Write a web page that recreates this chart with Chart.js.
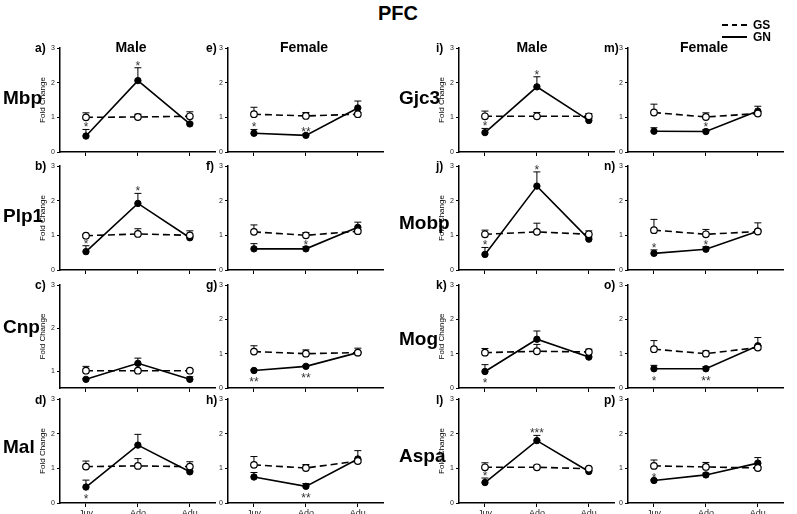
<!DOCTYPE html>
<html><head><meta charset="utf-8">
<script src="https://cdn.jsdelivr.net/npm/chart.js@4.4.0/dist/chart.umd.min.js"></script>
<style>
html,body{margin:0;padding:0;background:#fff;}
#wrap{position:relative;width:797px;height:514px;overflow:hidden;background:#fff;font-family:"Liberation Sans",Arial,sans-serif;}
canvas{position:absolute;}
.t{position:absolute;white-space:nowrap;font-weight:bold;color:#000;line-height:1;}
.ln{position:absolute;height:2px;}
</style></head><body><div id="wrap"></div>
<script>
// ---------- DATA ----------
const categories = ["Juv", "Ado", "Adu"];
const yTickValues = [0, 1, 2, 3];
const seriesNames = ["GS", "GN"];

// a) Mbp – Male
const gsA = [1.00, 1.01, 1.03], gsErrA = [0.13, 0.08, 0.13];
const gnA = [0.46, 2.06, 0.81], gnErrA = [0.19, 0.37, 0.03];
const sigA = ["*", "*", ""];
// b) Plp1 – Male
const gsB = [0.99, 1.04, 1.00], gsErrB = [0.03, 0.15, 0.13];
const gnB = [0.53, 1.92, 0.93], gnErrB = [0.17, 0.29, 0.05];
const sigB = ["*", "*", ""];
// c) Cnp – Male
const gsC = [1.02, 1.02, 1.02], gsErrC = [0.10, 0.02, 0.02];
const gnC = [0.82, 1.19, 0.82], gnErrC = [0.02, 0.12, 0.06];
const sigC = ["", "", ""];
// d) Mal – Male
const gsD = [1.05, 1.07, 1.05], gsErrD = [0.16, 0.21, 0.14];
const gnD = [0.46, 1.67, 0.90], gnErrD = [0.20, 0.31, 0.03];
const sigD = ["*", "", ""];
// e) Mbp – Female
const gsE = [1.09, 1.04, 1.09], gsErrE = [0.20, 0.10, 0.05];
const gnE = [0.54, 0.48, 1.27], gnErrE = [0.11, 0.04, 0.20];
const sigE = ["*", "**", ""];
// f) Plp1 – Female
const gsF = [1.10, 1.00, 1.12], gsErrF = [0.20, 0.08, 0.04];
const gnF = [0.61, 0.61, 1.23], gnErrF = [0.15, 0.06, 0.15];
const sigF = ["", "*", ""];
// g) Cnp – Female
const gsG = [1.06, 1.00, 1.03], gsErrG = [0.17, 0.11, 0.13];
const gnG = [0.51, 0.63, 1.03], gnErrG = [0.02, 0.02, 0.02];
const sigG = ["**", "**", ""];
// h) Mal – Female
const gsH = [1.10, 1.01, 1.21], gsErrH = [0.24, 0.10, 0.05];
const gnH = [0.75, 0.48, 1.27], gnErrH = [0.13, 0.08, 0.24];
const sigH = ["", "**", ""];
// i) Gjc3 – Male
const gsI = [1.03, 1.03, 1.03], gsErrI = [0.15, 0.11, 0.08];
const gnI = [0.56, 1.88, 0.91], gnErrI = [0.12, 0.29, 0.05];
const sigI = ["*", "*", ""];
// j) Mobp – Male
const gsJ = [1.03, 1.10, 1.03], gsErrJ = [0.12, 0.25, 0.10];
const gnJ = [0.45, 2.42, 0.89], gnErrJ = [0.20, 0.41, 0.04];
const sigJ = ["*", "*", ""];
// k) Mog – Male
const gsK = [1.03, 1.07, 1.05], gsErrK = [0.12, 0.20, 0.08];
const gnK = [0.48, 1.42, 0.90], gnErrK = [0.20, 0.24, 0.03];
const sigK = ["*", "", ""];
// l) Aspa – Male
const gsL = [1.03, 1.03, 0.99], gsErrL = [0.13, 0.06, 0.02];
const gnL = [0.59, 1.80, 0.91], gnErrL = [0.13, 0.15, 0.03];
const sigL = ["*", "***", ""];
// m) Gjc3 – Female
const gsM = [1.14, 1.01, 1.11], gsErrM = [0.24, 0.12, 0.05];
const gnM = [0.60, 0.59, 1.18], gnErrM = [0.10, 0.06, 0.14];
const sigM = ["", "*", ""];
// n) Mobp – Female
const gsN = [1.15, 1.03, 1.11], gsErrN = [0.31, 0.14, 0.05];
const gnN = [0.48, 0.60, 1.12], gnErrN = [0.10, 0.07, 0.24];
const sigN = ["*", "*", ""];
// o) Mog – Female
const gsO = [1.13, 1.00, 1.18], gsErrO = [0.25, 0.08, 0.05];
const gnO = [0.56, 0.56, 1.23], gnErrO = [0.10, 0.06, 0.24];
const sigO = ["*", "**", ""];
// p) Aspa – Female
const gsP = [1.07, 1.04, 1.01], gsErrP = [0.17, 0.13, 0.03];
const gnP = [0.65, 0.81, 1.15], gnErrP = [0.02, 0.05, 0.16];
const sigP = ["*", "", ""];

const genesLeft = ["Mbp", "Plp1", "Cnp", "Mal"];
const genesRight = ["Gjc3", "Mobp", "Mog", "Aspa"];

// ---------- PANEL TABLE (built from the arrays) ----------
const panels = [
  {id:"a", col:0, row:0, gs:gsA, gsE:gsErrA, gn:gnA, gnE:gnErrA, sig:sigA, pos:"above"},
  {id:"b", col:0, row:1, gs:gsB, gsE:gsErrB, gn:gnB, gnE:gnErrB, sig:sigB, pos:"above"},
  {id:"c", col:0, row:2, gs:gsC, gsE:gsErrC, gn:gnC, gnE:gnErrC, sig:sigC, pos:"above", ymin:0.62},
  {id:"d", col:0, row:3, gs:gsD, gsE:gsErrD, gn:gnD, gnE:gnErrD, sig:sigD, pos:"below"},
  {id:"e", col:1, row:0, gs:gsE, gsE:gsErrE, gn:gnE, gnE:gnErrE, sig:sigE, pos:"above"},
  {id:"f", col:1, row:1, gs:gsF, gsE:gsErrF, gn:gnF, gnE:gnErrF, sig:sigF, pos:"above"},
  {id:"g", col:1, row:2, gs:gsG, gsE:gsErrG, gn:gnG, gnE:gnErrG, sig:sigG, pos:"below"},
  {id:"h", col:1, row:3, gs:gsH, gsE:gsErrH, gn:gnH, gnE:gnErrH, sig:sigH, pos:"below"},
  {id:"i", col:2, row:0, gs:gsI, gsE:gsErrI, gn:gnI, gnE:gnErrI, sig:sigI, pos:"above"},
  {id:"j", col:2, row:1, gs:gsJ, gsE:gsErrJ, gn:gnJ, gnE:gnErrJ, sig:sigJ, pos:"above"},
  {id:"k", col:2, row:2, gs:gsK, gsE:gsErrK, gn:gnK, gnE:gnErrK, sig:sigK, pos:"below"},
  {id:"l", col:2, row:3, gs:gsL, gsE:gsErrL, gn:gnL, gnE:gnErrL, sig:sigL, pos:"above"},
  {id:"m", col:3, row:0, gs:gsM, gsE:gsErrM, gn:gnM, gnE:gnErrM, sig:sigM, pos:"above"},
  {id:"n", col:3, row:1, gs:gsN, gsE:gsErrN, gn:gnN, gnE:gnErrN, sig:sigN, pos:"above"},
  {id:"o", col:3, row:2, gs:gsO, gsE:gsErrO, gn:gnO, gnE:gnErrO, sig:sigO, pos:"below"},
  {id:"p", col:3, row:3, gs:gsP, gsE:gsErrP, gn:gnP, gnE:gnErrP, sig:sigP, pos:"above"}
];

// ---------- LAYOUT ----------
const FONT = '"Liberation Sans", Arial, sans-serif';
const colX = [60, 228, 459, 628];
const rowTop = [48, 166, 285, 399];
const rowBot = [152, 270, 388, 503];
const PW = 157, L = 21, R = 4, T = 10, B = 14;
const wrap = document.getElementById('wrap');

const errPlugin = {
  id: 'errbars',
  beforeDatasetsDraw(chart) {
    const ctx = chart.ctx, ys = chart.scales.y;
    ctx.save();
    ctx.strokeStyle = '#000'; ctx.lineWidth = 1; ctx.setLineDash([]);
    chart.data.datasets.forEach((ds, di) => {
      const meta = chart.getDatasetMeta(di);
      meta.data.forEach((pt, i) => {
        const e = ds.err[i]; if (!e) return;
        const y0 = ys.getPixelForValue(ds.data[i]);
        const y1 = ys.getPixelForValue(ds.data[i] + e);
        ctx.beginPath();
        ctx.moveTo(pt.x, y0); ctx.lineTo(pt.x, y1);
        ctx.moveTo(pt.x - 3.5, y1); ctx.lineTo(pt.x + 3.5, y1);
        ctx.stroke();
      });
    });
    ctx.restore();
  },
  afterDatasetsDraw(chart) {
    const ctx = chart.ctx, ys = chart.scales.y;
    ctx.save();
    ctx.fillStyle = '#333';
    const fs = 12;
    ctx.font = fs + 'px ' + FONT;
    ctx.textAlign = 'center'; ctx.textBaseline = 'alphabetic';
    chart.data.datasets.forEach((ds, di) => {
      if (!ds.sig) return;
      const meta = chart.getDatasetMeta(di);
      meta.data.forEach((pt, i) => {
        const s = ds.sig[i]; if (!s) return;
        let cy;
        if (ds.sigPos === 'above') cy = ys.getPixelForValue(ds.data[i] + ds.err[i]) - 5;
        else cy = ys.getPixelForValue(ds.data[i]) + 9;
        ctx.fillText(s, pt.x, cy + 0.57 * fs);
      });
    });
    ctx.restore();
  }
};

panels.forEach(p => {
  const cv = document.createElement('canvas');
  const w = L + PW + R, h = T + (rowBot[p.row] - rowTop[p.row]) + B;
  cv.width = w; cv.height = h;
  cv.style.left = (colX[p.col] - L) + 'px';
  cv.style.top = (rowTop[p.row] - T) + 'px';
  cv.style.width = w + 'px'; cv.style.height = h + 'px';
  wrap.appendChild(cv);
  new Chart(cv, {
    type: 'line',
    data: {
      labels: categories,
      datasets: [
        {label: seriesNames[0], data: p.gs, err: p.gsE, borderColor: '#000', borderWidth: 1.6,
         borderDash: [7, 4], pointRadius: 3.3, pointBackgroundColor: '#fff', pointBorderColor: '#000',
         pointBorderWidth: 1.2, tension: 0, fill: false},
        {label: seriesNames[1], data: p.gn, err: p.gnE, sig: p.sig, sigPos: p.pos, borderColor: '#000',
         borderWidth: 1.6, pointRadius: 3.2, pointBackgroundColor: '#000', pointBorderColor: '#000',
         pointBorderWidth: 1, tension: 0, fill: false}
      ]
    },
    options: {
      responsive: false, animation: false, devicePixelRatio: 1, events: [],
      layout: {padding: {left: 0, right: R, top: T, bottom: 0}},
      plugins: {legend: {display: false}, tooltip: {enabled: false}},
      scales: {
        x: {
          type: 'category', offset: true,
          afterFit: s => { s.height = B; },
          grid: {display: true, drawOnChartArea: false, drawTicks: true, tickLength: 4, color: '#000', lineWidth: 1},
          border: {display: true, color: '#000', width: 1.5},
          ticks: {display: p.row === 3, padding: 1, color: '#222', maxRotation: 0, autoSkip: false,
                  font: {size: 9, family: FONT}}
        },
        y: {
          type: 'linear', min: p.ymin !== undefined ? p.ymin : 0, max: 3,
          afterFit: s => { s.width = L; },
          afterBuildTicks: s => { s.ticks = yTickValues.filter(v => v >= s.min - 1e-9).map(v => ({value: v})); },
          grid: {display: true, drawOnChartArea: false, drawTicks: true, tickLength: 3, color: '#000', lineWidth: 1},
          border: {display: true, color: '#000', width: 1.5},
          ticks: {padding: 2, color: '#222', font: {size: 7, family: FONT}},
          title: {display: p.col % 2 === 0, text: 'Fold Change', color: '#000', padding: 0,
                  font: {size: 8, family: FONT, lineHeight: 1}}
        }
      }
    },
    plugins: [errPlugin]
  });
});

// ---------- TEXT ----------
function addText(str, x, baseline, size, align, bold) {
  const d = document.createElement('div');
  d.className = 't';
  d.textContent = str;
  d.style.fontSize = size + 'px';
  d.style.fontWeight = bold === false ? 'normal' : 'bold';
  d.style.top = (baseline - 0.8465 * size) + 'px';
  if (align === 'center') { d.style.left = x + 'px'; d.style.transform = 'translateX(-50%)'; }
  else if (align === 'right') { d.style.right = (797 - x) + 'px'; }
  else d.style.left = x + 'px';
  wrap.appendChild(d);
}
addText('PFC', 398, 20, 20, 'center');
// column titles
addText('Male', 131, 52, 14, 'center');
addText('Female', 304, 52, 14, 'center');
addText('Male', 532, 52, 14, 'center');
addText('Female', 704, 52, 14, 'center');
// gene names
const leftBase = [104, 222, 333, 453];
const rightBase = [104, 229, 345, 462];
genesLeft.forEach((g, i) => addText(g, 3, leftBase[i], 19, 'left'));
genesRight.forEach((g, i) => addText(g, 399, rightBase[i], 19, 'left'));
// panel letters
const letterX = [35, 206, 436, 604];
const letterBase = [52, 170, 289, 404];
panels.forEach(p => addText(p.id + ')', letterX[p.col], letterBase[p.row], 12, 'left'));
// legend
function addLine(x1, x2, y, dashed) {
  const d = document.createElement('div');
  d.className = 'ln';
  d.style.left = x1 + 'px'; d.style.top = (y - 1) + 'px'; d.style.width = (x2 - x1) + 'px';
  d.style.background = dashed
    ? 'repeating-linear-gradient(to right, #000 0px, #000 6px, transparent 6px, transparent 9.5px)'
    : '#000';
  wrap.appendChild(d);
}
addLine(722, 747, 25, true);
addLine(722, 747, 37, false);
addText(seriesNames[0], 753, 29, 12, 'left');
addText(seriesNames[1], 753, 41, 12, 'left');
</script></body></html>
